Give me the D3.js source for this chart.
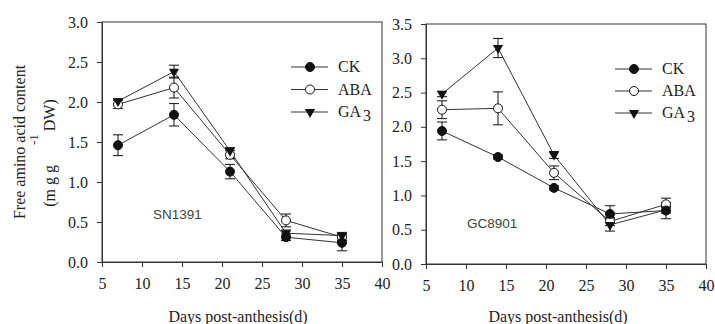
<!DOCTYPE html>
<html>
<head>
<meta charset="utf-8">
<script src="https://cdn.jsdelivr.net/npm/d3@7"></script>
<style>
  body { margin: 0; background: #fff; }
  svg { display: block; }
  .axis text { font-family: "Liberation Serif", "Times New Roman", serif; font-size: 16px; fill: #222; }
  .axis path, .axis line { stroke: #333; stroke-width: 1; }
</style>
</head>
<body>
<div id="chart"></div>
<script>
// days after anthesis
const days = [7, 14, 21, 28, 35];
const xTicks = [5, 10, 15, 20, 25, 30, 35, 40];

// SN1391 (left panel)
const snCK = [1.46, 1.84, 1.13, 0.31, 0.24];
const snCKErr = [0.13, 0.14, 0.09, 0.04, 0.10];
const snABA = [1.97, 2.18, 1.34, 0.52, 0.31];
const snABAErr = [0.05, 0.13, 0.05, 0.08, 0.04];
const snGA3 = [2.01, 2.38, 1.39, 0.36, 0.33];
const snGA3Err = [0.03, 0.08, 0.04, 0.04, 0.04];
const snYTicks = [0, 0.5, 1.0, 1.5, 2.0, 2.5, 3.0];

// GC8901 (right panel)
const gcCK = [1.94, 1.56, 1.11, 0.73, 0.78];
const gcCKErr = [0.13, 0.03, 0.03, 0.12, 0.12];
const gcABA = [2.25, 2.27, 1.33, 0.62, 0.87];
const gcABAErr = [0.13, 0.24, 0.10, 0.06, 0.09];
const gcGA3 = [2.48, 3.15, 1.59, 0.57, 0.79];
const gcGA3Err = [0.04, 0.14, 0.05, 0.09, 0.05];
const gcYTicks = [0, 0.5, 1.0, 1.5, 2.0, 2.5, 3.0, 3.5];

const legendNames = ['CK', 'ABA', 'GA'];

const width = 715, height = 324;
const svg = d3.select('#chart').append('svg')
  .attr('width', width)
  .attr('height', height);

function drawPanel(opt) {
  const x = d3.scaleLinear().domain([5, 40]).range([opt.left, opt.right]);
  const y = d3.scaleLinear().domain([0, opt.yMax]).range([opt.bottom, opt.top]);
  const g = svg.append('g');

  // frame
  g.append('rect')
    .attr('x', opt.left).attr('y', opt.top)
    .attr('width', opt.right - opt.left).attr('height', opt.bottom - opt.top)
    .attr('fill', 'none').attr('stroke', '#333');

  g.append('g').attr('class', 'axis')
    .attr('transform', `translate(0,${opt.bottom})`)
    .call(d3.axisBottom(x).tickValues(xTicks).tickSize(5).tickSizeOuter(0).tickPadding(11));

  g.append('g').attr('class', 'axis')
    .attr('transform', `translate(${opt.left},0)`)
    .call(d3.axisLeft(y).tickValues(opt.yTicks).tickFormat(d3.format('.1f')).tickSize(5).tickSizeOuter(0).tickPadding(9));

  const line = d3.line().x((d, i) => x(days[i])).y(d => y(d));

  const series = [
    { vals: opt.aba, err: opt.abaErr, type: 'open' },
    { vals: opt.ga3, err: opt.ga3Err, type: 'tri' },
    { vals: opt.ck, err: opt.ckErr, type: 'filled' }
  ];

  series.forEach(s => {
    g.append('path').attr('d', line(s.vals))
      .attr('fill', 'none').attr('stroke', '#333').attr('stroke-width', 1);
  });

  series.forEach(s => {
    s.vals.forEach((v, i) => {
      const cx = x(days[i]);
      const y1 = y(v + s.err[i]), y2 = y(v - s.err[i]);
      g.append('line').attr('x1', cx).attr('x2', cx).attr('y1', y1).attr('y2', y2)
        .attr('stroke', '#111').attr('stroke-width', 1);
      [y1, y2].forEach(yy => {
        g.append('line').attr('x1', cx - 5).attr('x2', cx + 5).attr('y1', yy).attr('y2', yy)
          .attr('stroke', '#111').attr('stroke-width', 1);
      });
    });
  });

  series.forEach(s => {
    s.vals.forEach((v, i) => marker(g, s.type, x(days[i]), y(v)));
  });

  // legend
  const types = ['filled', 'open', 'tri'];
  types.forEach((t, i) => {
    const ly = opt.legY + i * opt.legStep;
    g.append('line').attr('x1', opt.legX).attr('x2', opt.legX + 37)
      .attr('y1', ly).attr('y2', ly).attr('stroke', '#333');
    marker(g, t, opt.legX + 19, ly);
    const txt = g.append('text')
      .attr('x', opt.legX + 47).attr('y', ly + 5)
      .attr('font-family', '"Liberation Serif", "Times New Roman", serif')
      .attr('font-size', 16).attr('fill', '#222')
      .text(legendNames[i]);
    if (i === 2) txt.append('tspan').attr('dx', 2).attr('dy', 4).text('3');
  });

  g.append('text')
    .attr('x', opt.labelX).attr('y', opt.labelY)
    .attr('font-family', '"Liberation Sans", Arial, sans-serif')
    .attr('font-size', 13.5).attr('fill', '#384838')
    .text(opt.label);

  g.append('text')
    .attr('x', opt.titleX).attr('y', 322)
    .attr('text-anchor', 'middle')
    .attr('font-family', '"Liberation Serif", "Times New Roman", serif')
    .attr('font-size', 16).attr('fill', '#222')
    .text('Days post-anthesis(d)');
}

function marker(g, type, cx, cy) {
  if (type === 'tri') {
    g.append('path')
      .attr('d', d3.symbol().type(d3.symbolTriangle).size(45)())
      .attr('transform', `translate(${cx},${cy}) rotate(180)`)
      .attr('fill', '#111');
  } else {
    g.append('circle').attr('cx', cx).attr('cy', cy).attr('r', 4.5)
      .attr('fill', type === 'filled' ? '#111' : '#fff')
      .attr('stroke', '#111').attr('stroke-width', 1);
  }
}

drawPanel({
  left: 102, right: 382, top: 22, bottom: 262, yMax: 3.0, yTicks: snYTicks,
  ck: snCK, ckErr: snCKErr, aba: snABA, abaErr: snABAErr, ga3: snGA3, ga3Err: snGA3Err,
  legX: 291, legY: 67, legStep: 22.5,
  label: 'SN1391', labelX: 153, labelY: 219, titleX: 238
});

drawPanel({
  left: 426, right: 706, top: 24, bottom: 264, yMax: 3.5, yTicks: gcYTicks,
  ck: gcCK, ckErr: gcCKErr, aba: gcABA, abaErr: gcABAErr, ga3: gcGA3, ga3Err: gcGA3Err,
  legX: 615, legY: 69, legStep: 22,
  label: 'GC8901', labelX: 467, labelY: 228, titleX: 558
});

// y axis title
const serif = '"Liberation Serif", "Times New Roman", serif';
svg.append('text')
  .attr('transform', 'translate(25,142) rotate(-90)')
  .attr('text-anchor', 'middle')
  .attr('font-family', serif).attr('font-size', 16).attr('fill', '#222')
  .text('Free amino acid content');

const t2 = svg.append('text')
  .attr('transform', 'translate(55,153) rotate(-90)')
  .attr('text-anchor', 'middle')
  .attr('font-family', serif).attr('font-size', 16).attr('fill', '#222');
t2.append('tspan').text('(m g g');
t2.append('tspan').attr('dx', 20).attr('dy', -17).attr('font-size', 13).text('-1');
t2.append('tspan').attr('dx', 3).attr('dy', 17).text('DW)');
</script>
</body>
</html>
